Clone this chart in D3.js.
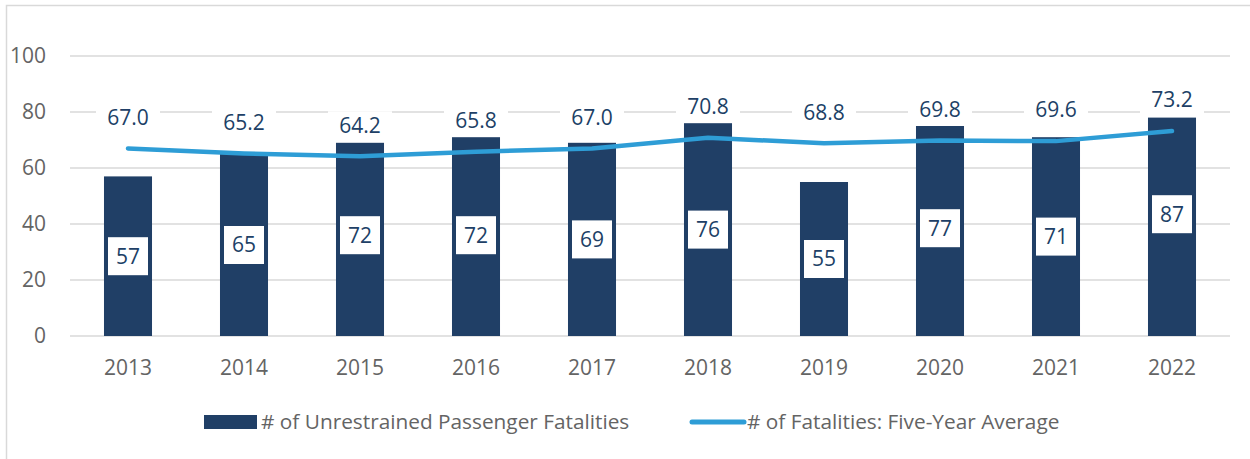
<!DOCTYPE html>
<html>
<head>
<meta charset="utf-8">
<script src="https://cdn.jsdelivr.net/npm/d3@7"></script>
<style>
	body { margin: 0; background: #fff; }
	svg { display: block; font-family: 'Open Sans', sans-serif; }
</style>
</head>
<body>
<div id="chart"></div>
<script>
// chart values
const years = ['2013', '2014', '2015', '2016', '2017', '2018', '2019', '2020', '2021', '2022'];
// bar heights as drawn in the reference
const fatalities = [57, 65, 69, 71, 69, 76, 55, 75, 71, 78];
// labels printed on the bars
const fatalityLabels = [57, 65, 72, 72, 69, 76, 55, 77, 71, 87];
const fiveYearAvg = [67.0, 65.2, 64.2, 65.8, 67.0, 70.8, 68.8, 69.8, 69.6, 73.2];
const yTicks = [0, 20, 40, 60, 80, 100];
const legendLabels = ['# of Unrestrained Passenger Fatalities', '# of Fatalities: Five-Year Average'];

const width = 1250;
const height = 459;
const margin = {top: 56, right: 20, bottom: 123, left: 70};

const barColor = '#203f66';
const lineColor = '#2e9dd6';
const textGray = '#646464';
const labelColor = '#203f66';

const svg = d3.select('#chart').append('svg')
	.attr('width', width)
	.attr('height', height);

// outer frame (only left and top edges show in the picture)
svg.append('path')
	.attr('d', `M6.5,${height} V5.5 H${width}`)
	.style('fill', 'none')
	.style('stroke', '#d9d9d9')
	.style('stroke-width', 1.5);

const x = d3.scaleBand()
	.domain(years)
	.range([margin.left, width - margin.right])
	.paddingInner(0.586)
	.paddingOuter(0.293);

const y = d3.scaleLinear()
	.domain([0, 100])
	.range([height - margin.bottom, margin.top]);

// gridlines
svg.append('g')
	.selectAll('line')
	.data(yTicks)
	.enter()
	.append('line')
	.attr('x1', margin.left)
	.attr('x2', width - margin.right)
	.attr('y1', d => y(d))
	.attr('y2', d => y(d))
	.style('stroke', '#d9d9d9')
	.style('stroke-width', 1.5);

// y axis labels
const yAxis = svg.append('g')
	.attr('transform', `translate(${margin.left - 24},0)`)
	.call(d3.axisLeft(y).tickValues(yTicks).tickSize(0).tickPadding(0));
yAxis.select('.domain').remove();
yAxis.selectAll('text')
	.style('font-family', "'Open Sans', sans-serif")
	.style('font-size', '21px')
	.style('fill', textGray);

// x axis labels
const xAxis = svg.append('g')
	.attr('transform', `translate(0,${y(0)})`)
	.call(d3.axisBottom(x).tickSize(0).tickPadding(24));
xAxis.select('.domain').remove();
xAxis.selectAll('text')
	.style('font-family', "'Open Sans', sans-serif")
	.style('font-size', '21px')
	.style('fill', textGray);

// bars
svg.append('g')
	.selectAll('rect')
	.data(fatalities)
	.enter()
	.append('rect')
	.attr('x', (d, i) => x(years[i]))
	.attr('width', x.bandwidth())
	.attr('y', d => y(d))
	.attr('height', d => y(0) - y(d))
	.style('fill', barColor);

// bar labels, white boxes sitting at half of the printed value
const barLabels = svg.append('g')
	.selectAll('g')
	.data(fatalityLabels)
	.enter()
	.append('g')
	.attr('transform', (d, i) => `translate(${x(years[i]) + x.bandwidth() / 2},${y(d / 2)})`);

barLabels.append('rect')
	.attr('x', -20)
	.attr('y', -19)
	.attr('width', 40)
	.attr('height', 38)
	.style('fill', '#fff');

barLabels.append('text')
	.attr('text-anchor', 'middle')
	.attr('dy', '0.35em')
	.style('font-size', '21px')
	.style('fill', labelColor)
	.text(d => d);

// five-year average line
const line = d3.line()
	.x((d, i) => x(years[i]) + x.bandwidth() / 2)
	.y(d => y(d));

svg.append('path')
	.datum(fiveYearAvg)
	.attr('d', line)
	.style('fill', 'none')
	.style('stroke', lineColor)
	.style('stroke-width', 4.5)
	.style('stroke-linecap', 'round')
	.style('stroke-linejoin', 'round');

// line labels above the points
const avgLabels = svg.append('g')
	.selectAll('g')
	.data(fiveYearAvg)
	.enter()
	.append('g')
	.attr('transform', (d, i) => `translate(${x(years[i]) + x.bandwidth() / 2},${y(d) - 31})`);

avgLabels.append('rect')
	.attr('x', -32)
	.attr('y', -14)
	.attr('width', 64)
	.attr('height', 28)
	.style('fill', '#fff');

avgLabels.append('text')
	.attr('text-anchor', 'middle')
	.attr('dy', '0.35em')
	.style('font-size', '21px')
	.style('fill', labelColor)
	.text(d => d.toFixed(1));

// legend
const legend = svg.append('g')
	.attr('transform', 'translate(0,422)');

legend.append('rect')
	.attr('x', 204)
	.attr('y', -7)
	.attr('width', 53)
	.attr('height', 14)
	.style('fill', barColor);

legend.append('text')
	.attr('x', 261)
	.attr('dy', '0.35em')
	.style('font-size', '20.8px')
	.style('fill', textGray)
	.text(legendLabels[0]);

legend.append('line')
	.attr('x1', 692)
	.attr('x2', 744)
	.style('stroke', lineColor)
	.style('stroke-width', 5)
	.style('stroke-linecap', 'round');

legend.append('text')
	.attr('x', 747)
	.attr('dy', '0.35em')
	.style('font-size', '20.8px')
	.style('fill', textGray)
	.text(legendLabels[1]);
</script>
</body>
</html>
